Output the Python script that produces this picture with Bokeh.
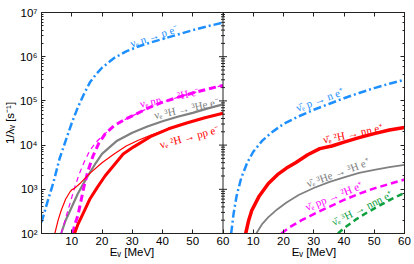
import math
from bokeh.plotting import figure
from bokeh.models import (ColumnDataSource, Label, Span, FixedTicker, LogAxis,
                          LinearAxis, CustomJSTickFormatter, Range1d)
from bokeh.transform import dodge
from bokeh.embed import file_html
from bokeh.resources import INLINE

PANEL = 60  # MeV span of each panel; right panel is drawn shifted by this

# ---------------- left panel: neutrino reactions ----------------
nue_n_E = [0, 2, 4, 6, 8, 10, 12, 14, 16, 18, 20, 24, 28, 32, 36, 40, 45, 50, 55, 60]
nue_n_rate = [180, 525, 1480, 5010, 12600, 31600, 70800, 141000, 263000, 398000, 562000,
              933000, 1.32e6, 1.70e6, 2.09e6, 2.51e6, 3.16e6, 3.98e6, 4.90e6, 5.89e6]

nue_nn_thin_E = [6.5, 8, 9.5, 11, 12.5, 14, 16, 18, 20, 23, 27, 30, 35, 40, 45, 50, 55, 60]
nue_nn_thin_rate = [100, 224, 501, 1120, 2240, 3980, 7590, 11500, 15800, 24000, 36300,
                    45700, 67600, 93300, 120000, 151000, 186000, 224000]

nue_nn_E = [10.3, 11, 12, 13, 14, 15.3, 17, 19, 21, 24, 27, 30, 35, 40, 45, 50, 55, 60]
nue_nn_rate = [100, 158, 251, 525, 1120, 2510, 5620, 11200, 17800, 27500, 36300, 45700,
               67600, 93300, 120000, 151000, 186000, 224000]

nue_3H_E = [6.5, 8, 10, 12, 15, 18, 20, 25, 30, 35, 40, 45, 50, 55, 60]
nue_3H_rate = [100, 200, 398, 794, 1860, 3980, 6310, 12600, 19100, 26300, 34700, 43700,
               53700, 67600, 83200]

nue_2H_thin_E = [4.4, 5.5, 6.5, 8, 9.5, 10, 10.9, 13, 16, 20, 24, 28, 32, 36, 42, 48, 54, 60]
nue_2H_thin_rate = [100, 200, 331, 603, 891, 977, 1050, 1410, 2290, 3980, 6310, 9550,
                    12900, 16600, 23400, 31600, 41700, 52500]

nue_2H_E = [10.9, 12, 14.2, 16, 18.5, 21, 24, 27, 30.5, 36, 42, 48, 54, 60]
nue_2H_rate = [100, 158, 331, 603, 1120, 2000, 3550, 6310, 9120, 15500, 23400, 31600,
               41700, 52500]

# ---------------- right panel: antineutrino reactions ----------------
anue_p_E = [2.7, 3.5, 4.5, 6, 8, 10, 13, 16, 20, 25, 30, 35, 40, 45, 50, 55, 60]
anue_p_rate = [100, 282, 708, 1780, 3980, 7080, 12600, 19100, 30200, 44700, 63100,
               85100, 115000, 151000, 195000, 245000, 302000]

anue_2H_E = [7.5, 8.5, 9.5, 12, 15, 18, 21, 24, 28, 32, 36, 40, 45, 50, 55, 60]
anue_2H_rate = [100, 200, 331, 708, 1350, 2140, 3020, 3980, 6030, 8320, 9550, 11700,
                14800, 18200, 21900, 25100]

anue_3He_E = [11, 13, 15, 18, 21, 25, 30, 35, 40, 45, 50, 55, 60]
anue_3He_rate = [100, 166, 234, 355, 501, 741, 1070, 1450, 1860, 2340, 2750, 3160, 3550]

anue_pp_E = [19.3, 22, 26, 30, 35, 40, 45, 50, 55, 60]
anue_pp_rate = [100, 138, 200, 275, 398, 575, 794, 1050, 1320, 1660]

anue_3H_E = [38, 40, 44, 48, 52, 56, 60]
anue_3H_rate = [100, 132, 209, 309, 437, 617, 832]

# ---------------- texts ----------------
x_tick_values = [10, 20, 30, 40, 50, 60]
x_tick_labels = ["10", "20", "30", "40", "50", "60"]
x_title = "Eᵥ [MeV]"
y_title = "1/λᵥ [s⁻¹]"

BLUE = "#1E8FFF"
MAG = "#FF00FF"
GRAY = "#808080"
RED = "#FF0000"
GREEN = "#10A040"
AX = "#222222"

p = figure(width=414, height=264, x_range=Range1d(0, 2 * PANEL), y_range=Range1d(1e2, 1e7),
           y_axis_type="log", output_backend="svg", toolbar_location=None,
           min_border_left=37, min_border_right=10, min_border_top=12, min_border_bottom=31)
p.grid.grid_line_color = None
p.background_fill_color = "white"
p.outline_line_color = AX


def style_axis(ax, labels=True):
    ax.axis_line_color = AX
    ax.major_tick_line_color = AX
    ax.minor_tick_line_color = AX
    ax.major_tick_in = 4
    ax.major_tick_out = 0
    ax.minor_tick_in = 2
    ax.minor_tick_out = 0
    ax.major_label_standoff = 3 if labels else 0
    ax.major_label_text_font = "Liberation Sans"
    ax.major_label_text_font_size = "11.5px" if labels else "0px"
    ax.major_label_text_color = "black"
    ax.axis_label_text_font = "Liberation Sans"
    ax.axis_label_text_font_size = "11.5px"
    ax.axis_label_text_font_style = "normal"
    ax.axis_label_text_color = "black"


y_fmt = CustomJSTickFormatter(code="""
const sup = {'0':'\u2070','1':'\u00b9','2':'\u00b2','3':'\u00b3','4':'\u2074','5':'\u2075',
             '6':'\u2076','7':'\u2077','8':'\u2078','9':'\u2079','-':'\u207b'};
const e = Math.round(Math.log10(tick));
return '10' + String(e).split('').map(c => sup[c]).join('');
""")

xticks = FixedTicker(ticks=x_tick_values + [t + PANEL for t in x_tick_values])
overrides = {}
for t, l in zip(x_tick_values, x_tick_labels):
    overrides[t] = l
    overrides[t + PANEL] = l

xa = p.xaxis[0]
xa.ticker = xticks
xa.major_label_overrides = overrides
style_axis(xa)
xa.minor_tick_line_color = None
# one title under each panel (centred on each half of the frame)
xa.axis_label = x_title + "\u00a0" * 43 + x_title
xa.axis_label_standoff = -2

ya = p.yaxis[0]
ya.formatter = y_fmt
style_axis(ya)
ya.major_label_standoff = 4
ya.axis_label = y_title
ya.axis_label_standoff = 1

top = LinearAxis(ticker=xticks)
style_axis(top, labels=False)
top.minor_tick_line_color = None
top.major_label_overrides = {t: "" for t in xticks.ticks}
p.add_layout(top, "above")

right = LogAxis()
style_axis(right, labels=False)
right.formatter = CustomJSTickFormatter(code="return '';")
p.add_layout(right, "right")

# divider between the two panels, with ticks on both sides
p.add_layout(Span(location=PANEL, dimension="height", line_color=AX, line_width=1))
major_y = [10.0 ** k for k in range(3, 7)]
minor_y = [m * 10.0 ** k for k in range(2, 7) for m in range(2, 10)]
p.scatter(x=[PANEL] * len(major_y), y=major_y, marker="dash", size=8, line_color=AX, line_width=1)
p.scatter(x=[PANEL] * len(minor_y), y=minor_y, marker="dash", size=4, line_color=AX, line_width=1)


def src(E, r):
    return ColumnDataSource(dict(E=E, rate=r))


# left panel curves
p.line("E", "rate", source=src(nue_n_E, nue_n_rate), line_color=BLUE, line_width=2.5,
       line_dash="8 3 2 3")
p.line("E", "rate", source=src(nue_3H_E, nue_3H_rate), line_color=GRAY, line_width=2.2)
p.line("E", "rate", source=src(nue_nn_thin_E, nue_nn_thin_rate), line_color=MAG, line_width=1.2,
       line_dash="5 4")
p.line("E", "rate", source=src(nue_nn_E, nue_nn_rate), line_color=MAG, line_width=3,
       line_dash="7 4")
p.line("E", "rate", source=src(nue_2H_thin_E, nue_2H_thin_rate), line_color=RED, line_width=1.2)
p.line("E", "rate", source=src(nue_2H_E, nue_2H_rate), line_color=RED, line_width=3)

# right panel curves (shifted by one panel width)
xr = dodge("E", PANEL)
p.line(xr, "rate", source=src(anue_p_E, anue_p_rate), line_color=BLUE, line_width=2.5,
       line_dash="8 3 2 3")
p.line(xr, "rate", source=src(anue_2H_E, anue_2H_rate), line_color=RED, line_width=3.5)
p.line(xr, "rate", source=src(anue_3He_E, anue_3He_rate), line_color=GRAY, line_width=1.8)
p.line(xr, "rate", source=src(anue_pp_E, anue_pp_rate), line_color=MAG, line_width=2.5,
       line_dash="7 4")
p.line(xr, "rate", source=src(anue_3H_E, anue_3H_rate), line_color=GREEN, line_width=2.5,
       line_dash="6 4")

# curve labels: (text, E, rate, angle in degrees, colour, panel offset)
curve_labels = [
    ("νₑ n → p e⁻", 37.2, 2.95e6, 18, BLUE, 0),
    ("νₑ nn → ²H e⁻", 42.4, 1.2e5, 12, MAG, 0),
    ("νₑ ³H → ³He e⁻", 47.9, 6.8e4, 12, GRAY, 0),
    ("νₑ ²H → pp e⁻", 48.9, 1.55e4, 15, RED, 0),
    ("ν̄ₑ p → n e⁺", 32.0, 1.08e5, 20, BLUE, PANEL),
    ("ν̄ₑ ²H → nn e⁺", 43, 1.85e4, 12, RED, PANEL),
    ("ν̄ₑ ³He → ³H e⁺", 38, 2.4e3, 20, GRAY, PANEL),
    ("ν̄ₑ pp → ²H e⁺", 36.7, 7.1e2, 22, MAG, PANEL),
    ("ν̄ₑ ³H → nnn e⁺", 46, 3.8e2, 26, GREEN, PANEL),
]
for t, e, r, a, c, off in curve_labels:
    p.add_layout(Label(x=e + off, y=r, text=t, angle=math.radians(a), text_color=c,
                       text_font="Liberation Serif", text_font_size="11px",
                       text_align="center", text_baseline="middle"))

open("out.html", "w").write(file_html(p, INLINE))
